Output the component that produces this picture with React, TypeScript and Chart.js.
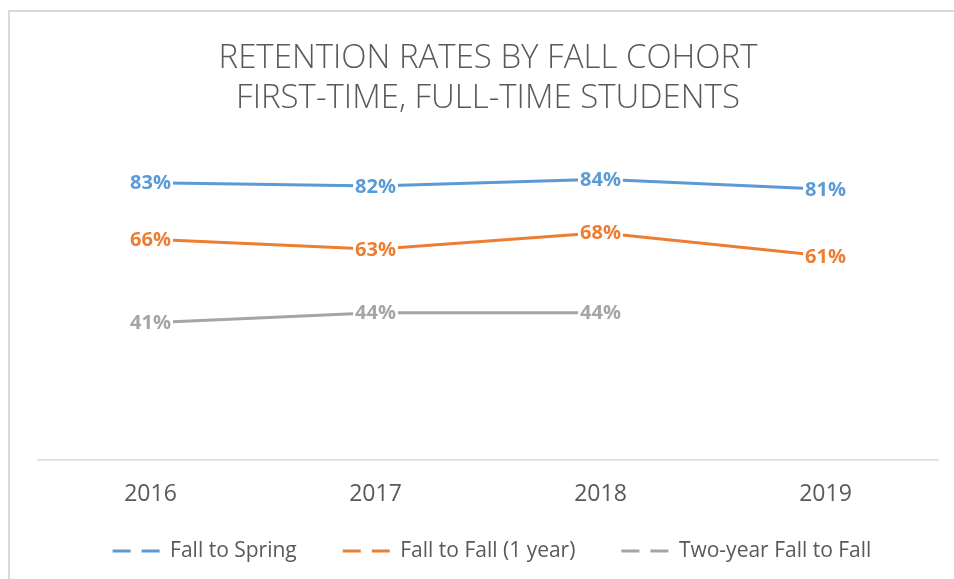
import React, { useEffect, useRef } from 'react';
import { Chart, registerables } from 'chart.js';

Chart.register(...registerables);

const categories = ['2016', '2017', '2018', '2019'];
const fallToSpring = [83, 82, 84, 81];
const fallToFall1Year = [66, 63, 68, 61];
const twoYearFallToFall = [41, 44, 44, null];
const seriesNames = ['Fall to Spring', 'Fall to Fall (1 year)', 'Two-year Fall to Fall'];
const seriesColors = ['#5B9BD5', '#ED7D31', '#A5A5A5'];
const titleLines = ['RETENTION RATES BY FALL COHORT', 'FIRST-TIME, FULL-TIME STUDENTS'];
const yMin = 0;
const yMax = 100;

const FONT = '"Open Sans", "DejaVu Sans", sans-serif';
const TEXT_COLOR = '#595959';

const dataLabelPlugin = {
  id: 'pctDataLabels',
  afterDatasetsDraw(chart: any) {
    const ctx = chart.ctx;
    ctx.save();
    ctx.font = `bold 20px ${FONT}`;
    ctx.textAlign = 'center';
    ctx.textBaseline = 'middle';
    chart.data.datasets.forEach((ds: any, i: number) => {
      const meta = chart.getDatasetMeta(i);
      meta.data.forEach((pt: any, j: number) => {
        const v = ds.data[j];
        if (v === null || v === undefined) return;
        const text = `${v}%`;
        const w = ctx.measureText(text).width;
        ctx.fillStyle = '#ffffff';
        ctx.fillRect(pt.x - w / 2 - 2, pt.y - 10, w + 4, 20);
        ctx.fillStyle = ds.borderColor;
        ctx.fillText(text, pt.x, pt.y + 1);
      });
    });
    ctx.restore();
  },
};

// Moves the legend up so it sits close to the category labels.
const legendShiftPlugin = {
  id: 'legendShift',
  afterLayout(chart: any) {
    const lg = chart.legend;
    if (lg) {
      lg.top -= 34.4;
      lg.bottom -= 34.4;
      lg.left += 4;
      lg.right += 4;
    }
  },
};

export default function App() {
  const canvasRef = useRef<HTMLCanvasElement | null>(null);

  useEffect(() => {
    if (!canvasRef.current) return;
    const seriesData = [fallToSpring, fallToFall1Year, twoYearFallToFall];
    const chart = new Chart(canvasRef.current, {
      type: 'line',
      data: {
        labels: categories,
        datasets: seriesData.map((d, i) => ({
          label: seriesNames[i],
          data: d,
          borderColor: seriesColors[i],
          backgroundColor: seriesColors[i],
          borderWidth: 3,
          pointRadius: 0,
          pointHoverRadius: 0,
          tension: 0,
          spanGaps: false,
        })),
      },
      options: {
        animation: false,
        responsive: false,
        maintainAspectRatio: false,
        layout: { padding: { left: 28, right: 34, top: 0, bottom: 0 } },
        scales: {
          x: {
            offset: true,
            grid: { display: false, drawTicks: false },
            border: { display: true, color: '#d9d9d9', width: 1.5 },
            ticks: { color: TEXT_COLOR, font: { family: FONT, size: 23 }, padding: 21 },
          },
          y: {
            display: false,
            min: yMin,
            max: yMax,
          },
        },
        plugins: {
          title: {
            display: true,
            text: titleLines,
            color: TEXT_COLOR,
            font: { family: FONT, size: 33, weight: '300' as any, lineHeight: 1.23 },
            padding: { top: 26, bottom: 6.8 },
          },
          legend: {
            position: 'bottom',
            labels: {
              color: TEXT_COLOR,
              font: { family: FONT, size: 21 },
              usePointStyle: true,
              pointStyleWidth: 47,
              padding: 46,
              generateLabels(c: any) {
                const items = Chart.defaults.plugins.legend.labels.generateLabels(c);
                return items.map((it: any) => ({
                  ...it,
                  pointStyle: 'line',
                  lineDash: [18, 11],
                  lineWidth: 3,
                  fillStyle: it.strokeStyle,
                }));
              },
            },
          },
          tooltip: { enabled: false },
        },
      },
      plugins: [dataLabelPlugin, legendShiftPlugin],
    });
    return () => chart.destroy();
  }, []);

  return (
    <div style={{ position: 'fixed', inset: 0, overflow: 'hidden', background: '#fff' }}>
      <div
        style={{
          position: 'absolute',
          left: 8,
          top: 10,
          width: 964,
          height: 600,
          borderLeft: '2px solid #d9d9d9',
          borderTop: '2px solid #d9d9d9',
          boxSizing: 'border-box',
        }}
      >
        <canvas ref={canvasRef} width={962} height={594} style={{ display: 'block' }} />
      </div>
    </div>
  );
}
